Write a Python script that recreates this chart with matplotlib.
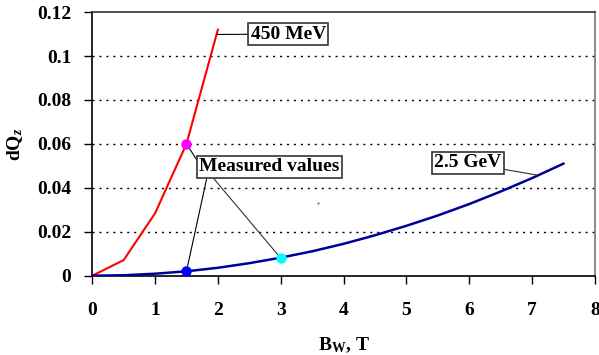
import numpy as np
import matplotlib
matplotlib.use("Agg")
import matplotlib.pyplot as plt

plt.rcParams['font.family'] = ['Liberation Serif', 'DejaVu Serif']
plt.rcParams['font.weight'] = 'bold'
plt.rcParams['mathtext.fontset'] = 'custom'
plt.rcParams['mathtext.rm'] = 'Liberation Serif:bold'
plt.rcParams['mathtext.bf'] = 'Liberation Serif:bold'
plt.rcParams['mathtext.it'] = 'Liberation Serif:bold:italic'

# 450 MeV curve
b_450 = [0, 0.5, 1.0, 1.5, 2.0]
dq_450 = [0, 0.0071, 0.0284, 0.060, 0.112]

# 2.5 GeV curve
b_25 = [0, 0.5, 1.0, 1.5, 2.0, 2.5, 3.0, 3.5, 4.0, 4.5, 5.0, 5.5, 6.0, 6.5, 7.0, 7.5]
dq_25 = [0, 0.0002, 0.0009, 0.002, 0.0036, 0.0057, 0.0082, 0.0111, 0.0145,
         0.0184, 0.0227, 0.0274, 0.0326, 0.0383, 0.0444, 0.051]

# measured values
meas_b = [1.5, 1.5, 3.0]
meas_dq = [0.060, 0.002, 0.008]
meas_col = ['#ff00ff', '#0000ff', '#00ffff']

fig = plt.figure(figsize=(5.99, 3.55), dpi=100)
ax = fig.add_axes([0.154, 0.2234, 0.839, 0.7426])

for y in [0.02, 0.04, 0.06, 0.08, 0.1]:
    ax.axhline(y, color='black', lw=1, ls=(0, (1.5, 3.5)), zorder=1)

ax.plot(b_450, dq_450, color='#ff0000', lw=1.5, zorder=3)
ax.plot(b_25, dq_25, color='#000099', lw=1.8, zorder=3)
for bx, qy, c in zip(meas_b, meas_dq, meas_col):
    ax.plot(bx, qy, 'o', color=c, ms=6.5, zorder=4)

ax.plot(3.6, 0.0332, '.', color='#888888', ms=1.5)  # stray dot

fs = 14
box = dict(boxstyle='square,pad=0.12', fc='white', ec='#333333', lw=1.2)
ax.annotate('450 MeV', xy=(1.98, 0.1098), xytext=(2.52, 0.110),
            fontsize=fs, fontweight='bold', va='center', ha='left', bbox=box,
            arrowprops=dict(arrowstyle='-', color='black', lw=0.8, shrinkA=0, shrinkB=0))
ax.annotate('2.5 GeV', xy=(7.1, 0.0457), xytext=(5.44, 0.0513),
            fontsize=fs, fontweight='bold', va='center', ha='left', bbox=box,
            arrowprops=dict(arrowstyle='-', color='#333333', lw=0.8, shrinkA=0, shrinkB=0))

ax.text(1.70, 0.0495, 'Measured values', fontsize=fs, fontweight='bold',
        va='center', ha='left', bbox=box, zorder=5)
ax.plot([1.5, 1.68], [0.060, 0.0520], color='black', lw=0.8, zorder=2)
ax.plot([1.82, 1.5], [0.0440, 0.002], color='black', lw=0.8, zorder=2)
ax.plot([1.94, 3.0], [0.0440, 0.008], color='#333333', lw=0.8, zorder=2)

ax.set_xlim(0, 8)
ax.set_ylim(0, 0.12)
ax.set_xticks(range(0, 9))
ax.set_yticks([0, 0.02, 0.04, 0.06, 0.08, 0.1, 0.12])
ax.set_yticklabels(['0', '0.02', '0.04', '0.06', '0.08', '0.1', '0.12'])
ax.tick_params(axis='both', direction='out', length=6, width=1, labelsize=fs)
ax.tick_params(axis='x', pad=13)
ax.tick_params(axis='y', pad=9)
for lab in ax.get_xticklabels() + ax.get_yticklabels():
    lab.set_fontweight('bold')

ax.spines['left'].set_color('black')
ax.spines['bottom'].set_color('black')
ax.spines['top'].set_color('#333333')
ax.spines['right'].set_color('#777777')
for s in ax.spines.values():
    s.set_linewidth(1.2)

ax.set_xlabel(r'B$_{\mathrm{W}}$, T', fontsize=fs, fontweight='bold', labelpad=12)
ax.set_ylabel(r'dQ$_{z}$', fontsize=fs, fontweight='bold', labelpad=9)

fig.savefig('out.png', dpi=100)
